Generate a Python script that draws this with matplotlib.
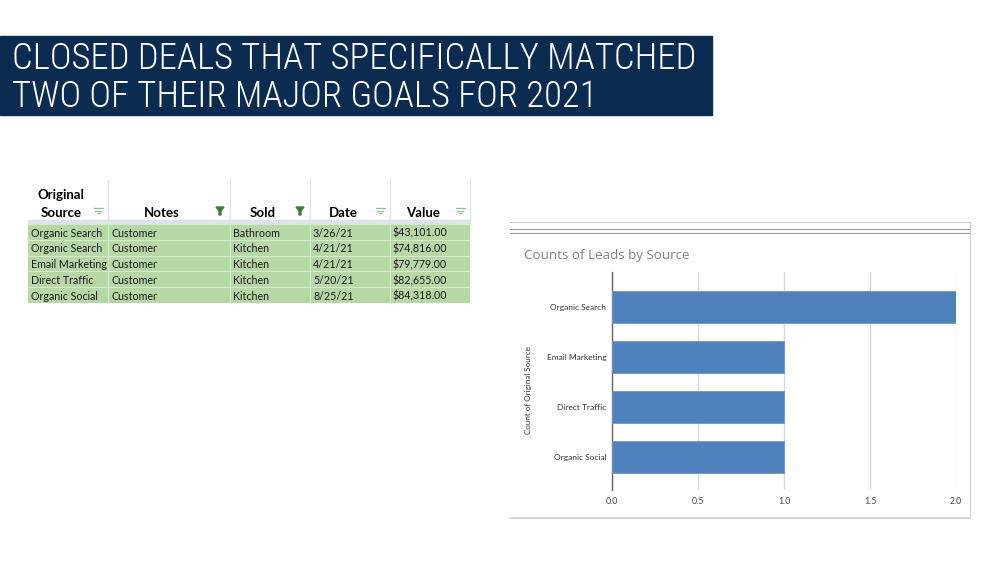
import matplotlib.pyplot as plt
from matplotlib.patches import Rectangle
from matplotlib import font_manager

##############################
# Data

title_lines = ["CLOSED DEALS THAT SPECIFICALLY MATCHED", "TWO OF THEIR MAJOR GOALS FOR 2021"]

table_headers = ["Original\nSource", "Notes", "Sold", "Date", "Value"]
header_filtered = [False, True, True, False, False]
col_source = ["Organic Search", "Organic Search", "Email Marketing", "Direct Traffic", "Organic Social"]
col_notes = ["Customer", "Customer", "Customer", "Customer", "Customer"]
col_sold = ["Bathroom", "Kitchen", "Kitchen", "Kitchen", "Kitchen"]
col_date = ["3/26/21", "4/21/21", "4/21/21", "5/20/21", "8/25/21"]
col_value = ["$43,101.00", "$74,816.00", "$79,779.00", "$82,655.00", "$84,318.00"]

chart_title = "Counts of Leads by Source"
sources = ["Organic Search", "Email Marketing", "Direct Traffic", "Organic Social"]
counts = [2, 1, 1, 1]
x_ticks = [0.0, 0.5, 1.0, 1.5, 2.0]

##############################
# Figure + pixel overlay

W, H = 1000, 562
fig = plt.figure(figsize=(10, 5.62), dpi=100)
fig.patch.set_facecolor("white")

bg = fig.add_axes([0, 0, 1, 1])
bg.set_xlim(0, W)
bg.set_ylim(H, 0)
bg.axis("off")

# pick a narrow font for the banner if one is there
names = {f.name for f in font_manager.fontManager.ttflist}
narrow = [n for n in ["Liberation Sans Narrow", "Roboto Condensed", "Open Sans Condensed",
                      "Noto Sans Condensed"] if n in names]
title_family = narrow + ["Noto Sans", "DejaVu Sans"]

# title banner
bg.add_patch(Rectangle((0, 36), 712, 79, color="#0b2b50"))
renderer = fig.canvas.get_renderer()
t_objs = []
for i, line in enumerate(title_lines):
    t = bg.text(12, 59 + i * 38, line, color="white", fontsize=26, va="center", ha="left",
                family=title_family, stretch="condensed", weight="light")
    t_objs.append(t)
# size the first line to about 685 px wide
w0 = t_objs[0].get_window_extent(renderer).width
size = 26 * 685 / w0
for t in t_objs:
    t.set_fontsize(size)

##############################
# Table

col_x = [28, 108, 230, 310, 390, 470]
row_top = 224
row_h = 15.8
columns = [col_source, col_notes, col_sold, col_date, col_value]
tfont = ["Lato", "DejaVu Sans"]

# header
for j, name in enumerate(table_headers):
    bg.plot([col_x[j + 1], col_x[j + 1]], [180, 221], color="#e3e3e3", lw=1)
    if j == 0:
        for k, part in enumerate(name.split("\n")):
            bg.text(61, 199 + k * 18, part, fontsize=9.5, fontweight="bold", ha="center",
                    va="baseline", family=tfont)
    else:
        bg.text((col_x[j] + col_x[j + 1]) / 2 - 7, 217, name, fontsize=9.5, fontweight="bold",
                ha="center", va="baseline", family=tfont)
    fx = col_x[j + 1] - 10
    if header_filtered[j]:
        bg.fill([fx - 4, fx + 4, fx + 1, fx + 1, fx - 1, fx - 1],
                [207, 207, 211, 215, 215, 211], color="#3f7a3a")
    else:
        for k, half in enumerate([4.5, 3, 1.5]):
            bg.plot([fx - half, fx + half], [208 + k * 2.5] * 2, color="#8fc39a", lw=0.9)
bg.add_patch(Rectangle((28, 219.5), 442, 3, color="#dde3ea"))

# rows
for i in range(len(col_source)):
    y0 = row_top + i * row_h
    bg.add_patch(Rectangle((28, y0), 442, row_h, facecolor="#b7d8a6", edgecolor="none"))
    bg.plot([28, 470], [y0, y0], color="#d6e9cc", lw=0.8)
    for j, col in enumerate(columns):
        bg.text(col_x[j] + 3, y0 + row_h / 2 + 1.2, col[i], fontsize=7.7, ha="left", va="center",
                family=tfont, color="#1a1a1a")
for x in col_x[1:-1]:
    bg.plot([x, x], [row_top, row_top + row_h * 5], color="#d6e9cc", lw=0.8)

##############################
# Chart panel

bg.plot([510, 970], [222, 222], color="#cfcfcf", lw=0.8)
bg.plot([510, 970], [229, 229], color="#9a9a9a", lw=0.8)
bg.plot([510, 970], [233, 233], color="#9a9a9a", lw=0.8)
bg.plot([970, 970], [222, 518], color="#cfcfcf", lw=0.8)
bg.plot([510, 970], [518, 518], color="#cfcfcf", lw=1.2)
bg.text(524, 256, chart_title, fontsize=9.6, color="#808080", ha="left", va="center",
        family=["Open Sans", "DejaVu Sans"])
bg.text(528, 390, "Count of Original Source", fontsize=5.8, color="#333333", rotation=90,
        ha="center", va="center", family=tfont)

ax = fig.add_axes([612 / W, 1 - 490 / H, 344 / W, (490 - 272) / H])
ypos = list(range(len(sources)))
ax.barh(ypos, counts, height=0.64, color="#4f81bd", edgecolor="#6f97c9", lw=0.6, zorder=3)
ax.set_xlim(0, 2.0)
ax.set_ylim(3.66, -0.7)
ax.set_xticks(x_ticks)
ax.set_xticklabels([f"{t:.1f}" for t in x_ticks], fontsize=6.3, color="#444444", family=tfont)
ax.set_yticks(ypos)
ax.set_yticklabels(sources, fontsize=6.0, color="#333333", family=tfont)
ax.tick_params(axis="y", length=0, pad=4)
ax.tick_params(axis="x", length=0, pad=5)
ax.grid(axis="x", color="#d9d9d9", lw=1, zorder=0)
for s in ["top", "right", "bottom"]:
    ax.spines[s].set_visible(False)
ax.spines["left"].set_color("#666666")
ax.spines["left"].set_linewidth(1)
ax.set_facecolor("none")

fig.savefig("out.png", dpi=100)
